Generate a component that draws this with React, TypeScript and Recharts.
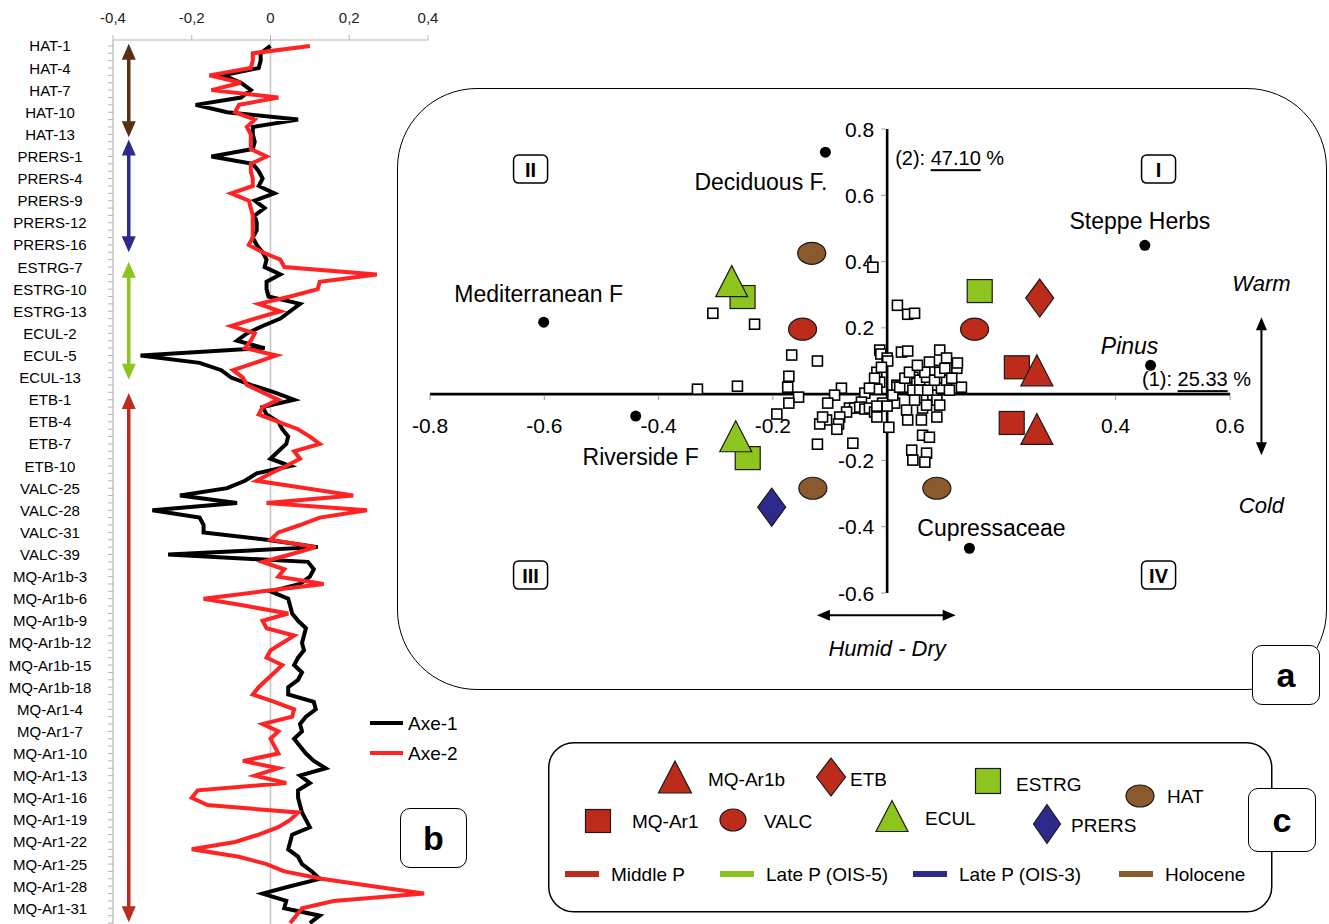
import React from 'react';
import {
  LineChart, Line, XAxis, YAxis, ReferenceLine, ReferenceDot, ScatterChart, Scatter,
} from 'recharts';

const FONT = '"Liberation Sans", Arial, Helvetica, sans-serif';
const RED = '#bd2b1b';
const GREEN = '#8dc41e';
const NAVY = '#2c2a8d';
const BROWN = '#8a5a2c';
const DARKBROWN = '#5b2f12';

// ---------------- Panel b : sample scores on axes 1 and 2 ----------------
const sampleLabels = [
  'HAT-1', 'HAT-4', 'HAT-7', 'HAT-10', 'HAT-13', 'PRERS-1', 'PRERS-4', 'PRERS-9', 'PRERS-12', 'PRERS-16',
  'ESTRG-7', 'ESTRG-10', 'ESTRG-13', 'ECUL-2', 'ECUL-5', 'ECUL-13', 'ETB-1', 'ETB-4', 'ETB-7', 'ETB-10',
  'VALC-25', 'VALC-28', 'VALC-31', 'VALC-39', 'MQ-Ar1b-3', 'MQ-Ar1b-6', 'MQ-Ar1b-9', 'MQ-Ar1b-12', 'MQ-Ar1b-15', 'MQ-Ar1b-18',
  'MQ-Ar1-4', 'MQ-Ar1-7', 'MQ-Ar1-10', 'MQ-Ar1-13', 'MQ-Ar1-16', 'MQ-Ar1-19', 'MQ-Ar1-22', 'MQ-Ar1-25', 'MQ-Ar1-28', 'MQ-Ar1-31',
];
const profileTicks = [-0.4, -0.2, 0, 0.2, 0.4];
const seriesNames = ['Axe-1', 'Axe-2'];

const axe1 = [
  0.0, -0.025, -0.025, -0.03, -0.12, -0.075, -0.05, -0.075, -0.19, -0.11,
  0.07, -0.045, -0.045, -0.04, -0.045, -0.15, -0.045, -0.03, -0.02, -0.03,
  0.01, -0.04, -0.015, -0.04, -0.035, -0.035, -0.045, -0.035, -0.02, -0.01,
  -0.015, 0.025, -0.01, -0.01, -0.005, 0.075, 0.05, 0.025, -0.02, -0.06,
  -0.085, -0.015, -0.33, -0.18, -0.125, -0.1, -0.05, 0.01, 0.06, -0.02,
  -0.01, 0.02, 0.03, 0.045, 0.04, 0.02, 0.0, 0.05, -0.035, -0.065,
  -0.11, -0.23, -0.085, -0.3, -0.18, -0.17, -0.17, -0.01, 0.12, -0.26,
  0.095, 0.11, 0.1, 0.075, 0.0, 0.045, 0.05, 0.055, 0.07, 0.09,
  0.085, 0.08, 0.085, 0.07, 0.06, 0.08, 0.07, 0.045, 0.045, 0.11,
  0.115, 0.09, 0.075, 0.08, 0.06, 0.075, 0.09, 0.11, 0.14, 0.075,
  0.1, 0.07, 0.07, 0.075, 0.08, 0.09, 0.1, 0.055, 0.05, 0.045,
  0.07, 0.08, 0.105, 0.125, 0.05, -0.02, 0.04, 0.035, 0.125, 0.1,
];
const axe2 = [
  0.1, -0.045, -0.045, -0.05, -0.155, -0.075, -0.15, 0.02, -0.08, -0.09,
  -0.04, -0.06, -0.05, -0.05, -0.05, -0.01, -0.05, -0.05, -0.045, -0.045,
  -0.1, -0.055, -0.05, -0.045, -0.045, -0.045, -0.045, -0.055, -0.02, 0.025,
  0.035, 0.27, 0.125, 0.12, 0.05, -0.03, 0.025, -0.04, -0.1, -0.04,
  -0.05, -0.065, 0.015, -0.04, -0.095, -0.07, -0.06, -0.02, 0.02, -0.02,
  -0.03, 0.02, 0.07, 0.1, 0.125, 0.06, 0.075, 0.04, 0.0, -0.035,
  0.09, 0.21, -0.01, 0.245, 0.125, 0.075, 0.02, 0.0, 0.115, 0.05,
  -0.02, 0.035, 0.02, 0.135, -0.02, -0.17, -0.06, 0.045, -0.02, -0.01,
  0.06, 0.03, 0.0, -0.01, 0.03, 0.01, -0.01, -0.03, -0.045, 0.01,
  0.06, 0.055, -0.02, 0.02, 0.0, 0.01, 0.02, -0.07, 0.02, -0.04,
  0.04, -0.185, -0.2, -0.16, 0.07, 0.05, 0.02, -0.03, -0.09, -0.2,
  -0.08, -0.01, 0.035, 0.13, 0.26, 0.39, 0.16, 0.08, 0.065, 0.05,
];
const profileData = axe1.map((v, i) => ({ idx: i, axe1: v, axe2: axe2[i] }));
const idxTicks = Array.from({ length: 122 }, (_, i) => i);

// period arrows along the sample axis (sample index range)
const periodArrows = [
  { from: -0.3, to: 12.4, color: DARKBROWN },
  { from: 12.7, to: 28.0, color: NAVY },
  { from: 29.3, to: 45.3, color: GREEN },
  { from: 47.1, to: 118.9, color: RED },
];
const periodArrowX = -0.36;

// ---------------- Panel a : correspondence analysis plane ----------------
const sampleScores = [
  { x: -0.025, y: 0.383 }, { x: 0.018, y: 0.268 }, { x: 0.036, y: 0.241 }, { x: 0.048, y: 0.244 },
  { x: -0.305, y: 0.244 }, { x: -0.232, y: 0.211 }, { x: -0.167, y: 0.118 }, { x: -0.122, y: 0.1 },
  { x: -0.013, y: 0.133 }, { x: -0.011, y: 0.121 }, { x: 0.0, y: 0.109 }, { x: -0.172, y: 0.054 },
  { x: -0.174, y: 0.021 }, { x: -0.155, y: -0.009 }, { x: -0.172, y: -0.027 }, { x: -0.332, y: 0.015 },
  { x: -0.262, y: 0.024 }, { x: -0.08, y: 0.018 }, { x: -0.092, y: -0.003 }, { x: -0.104, y: -0.027 },
  { x: -0.193, y: -0.06 }, { x: 0.025, y: 0.127 }, { x: 0.036, y: 0.13 }, { x: -0.018, y: 0.066 },
  { x: -0.013, y: 0.036 }, { x: -0.039, y: 0.003 }, { x: -0.018, y: 0.015 }, { x: 0.017, y: 0.027 },
  { x: 0.001, y: 0.1 }, { x: -0.01, y: 0.081 }, { x: -0.022, y: 0.048 }, { x: -0.031, y: 0.018 },
  { x: -0.045, y: -0.024 }, { x: -0.066, y: -0.042 }, { x: -0.057, y: -0.042 }, { x: -0.048, y: -0.039 },
  { x: -0.039, y: -0.045 }, { x: -0.031, y: -0.042 }, { x: -0.071, y: -0.054 }, { x: -0.083, y: -0.069 },
  { x: -0.106, y: -0.078 }, { x: -0.118, y: -0.09 }, { x: -0.085, y: -0.09 }, { x: -0.088, y: -0.106 },
  { x: -0.122, y: -0.151 }, { x: -0.06, y: -0.148 }, { x: -0.022, y: -0.054 }, { x: -0.008, y: -0.027 },
  { x: 0.003, y: -0.1 }, { x: 0.013, y: -0.027 }, { x: 0.017, y: 0.021 }, { x: 0.034, y: 0.021 },
  { x: 0.045, y: 0.051 }, { x: 0.052, y: 0.033 }, { x: 0.057, y: 0.042 }, { x: 0.069, y: 0.051 },
  { x: 0.08, y: 0.072 }, { x: 0.092, y: 0.133 }, { x: 0.104, y: 0.109 }, { x: 0.122, y: 0.078 },
  { x: 0.123, y: 0.094 }, { x: 0.13, y: 0.021 }, { x: 0.034, y: -0.048 }, { x: 0.036, y: -0.078 },
  { x: 0.06, y: -0.078 }, { x: 0.087, y: -0.069 }, { x: 0.069, y: -0.012 }, { x: 0.08, y: -0.003 },
  { x: 0.062, y: -0.042 }, { x: 0.095, y: 0.018 }, { x: 0.104, y: 0.042 }, { x: 0.062, y: -0.124 },
  { x: 0.074, y: -0.13 }, { x: 0.043, y: -0.169 }, { x: 0.045, y: -0.199 }, { x: 0.069, y: -0.178 },
  { x: 0.066, y: -0.205 }, { x: 0.109, y: 0.012 }, { x: 0.01, y: -0.003 }, { x: 0.022, y: 0.021 },
  { x: 0.045, y: 0.012 }, { x: 0.057, y: 0.012 }, { x: 0.071, y: 0.012 }, { x: 0.031, y: 0.048 },
  { x: 0.039, y: 0.066 }, { x: 0.066, y: 0.066 }, { x: 0.083, y: 0.042 }, { x: 0.053, y: 0.087 },
  { x: 0.074, y: 0.097 }, { x: 0.092, y: 0.066 }, { x: 0.101, y: 0.078 }, { x: 0.113, y: 0.048 },
  { x: 0.087, y: -0.018 }, { x: 0.048, y: -0.018 }, { x: 0.069, y: -0.033 }, { x: 0.092, y: -0.033 },
  { x: -0.018, y: -0.036 }, { x: 0.0, y: -0.036 }, { x: -0.018, y: -0.069 }, { x: -0.113, y: -0.069 },
];

const taxa = [
  { name: 'Deciduous F.', x: -0.108, y: 0.73 },
  { name: 'Steppe Herbs', x: 0.451, y: 0.449 },
  { name: 'Mediterranean F', x: -0.601, y: 0.217 },
  { name: 'Pinus', x: 0.461, y: 0.087 },
  { name: 'Riverside F', x: -0.44, y: -0.066 },
  { name: 'Cupressaceae', x: 0.144, y: -0.465 },
];

const mqAr1Pts = [{ x: 0.227, y: 0.081 }, { x: 0.218, y: -0.087 }];
const estrgPts = [{ x: -0.253, y: 0.293 }, { x: -0.244, y: -0.193 }, { x: 0.162, y: 0.311 }];
const valcPts = [{ x: -0.148, y: 0.196 }, { x: 0.153, y: 0.196 }];
const hatPts = [{ x: -0.132, y: 0.425 }, { x: -0.13, y: -0.284 }, { x: 0.087, y: -0.284 }];
const etbPts = [{ x: 0.267, y: 0.29 }];
const prersPts = [{ x: -0.202, y: -0.341 }];
const eculPts = [{ x: -0.272, y: 0.341 }, { x: -0.265, y: -0.127 }];
const mqAr1bPts = [{ x: 0.262, y: 0.072 }, { x: 0.262, y: -0.105 }];

const caXTicks = [-0.8, -0.6, -0.4, -0.2, 0.4, 0.6];
const caYTicks = [0.8, 0.6, 0.4, 0.2, -0.2, -0.4, -0.6];
const quadrants = [
  { label: 'I', x: 0.475, y: 0.679 },
  { label: 'II', x: -0.624, y: 0.679 },
  { label: 'III', x: -0.624, y: -0.546 },
  { label: 'IV', x: 0.475, y: -0.546 },
];
const axisInertia = { axis1: '25.33', axis2: '47.10' };

// ---------------- Panel c legend ----------------
const legendSites = ['MQ-Ar1b', 'ETB', 'ESTRG', 'HAT', 'MQ-Ar1', 'VALC', 'ECUL', 'PRERS'];
const legendPeriods = ['Middle P', 'Late P (OIS-5)', 'Late P (OIS-3)', 'Holocene'];

// ---------------- styles ----------------
type Kind = 'triangle' | 'square' | 'ellipse' | 'diamond';
const siteStyle: Record<string, { kind: Kind; fill: string }> = {
  'MQ-Ar1b': { kind: 'triangle', fill: RED },
  'MQ-Ar1': { kind: 'square', fill: RED },
  ETB: { kind: 'diamond', fill: RED },
  VALC: { kind: 'ellipse', fill: RED },
  ESTRG: { kind: 'square', fill: GREEN },
  ECUL: { kind: 'triangle', fill: GREEN },
  PRERS: { kind: 'diamond', fill: NAVY },
  HAT: { kind: 'ellipse', fill: BROWN },
};
const kindSize: Record<Kind, [number, number]> = {
  triangle: [32, 31], square: [25, 23], ellipse: [28, 22], diamond: [28, 38],
};
const periodColors = [RED, GREEN, NAVY, BROWN];

const taxonLabel: Record<string, { dx: number; dy: number; anchor: 'start' | 'middle' | 'end'; italic?: boolean }> = {
  'Deciduous F.': { dx: 2, dy: 30, anchor: 'end' },
  'Steppe Herbs': { dx: -5, dy: -24, anchor: 'middle' },
  'Mediterranean F': { dx: -5, dy: -28, anchor: 'middle' },
  Pinus: { dx: -21, dy: -19, anchor: 'middle', italic: true },
  'Riverside F': { dx: 5, dy: 41, anchor: 'middle' },
  Cupressaceae: { dx: 22, dy: -20, anchor: 'middle' },
};

const legendPos: Record<string, { cx: number; cy: number; tx: number; ty: number }> = {
  'MQ-Ar1b': { cx: 127, cy: 35, tx: 160, ty: 37 },
  ETB: { cx: 283, cy: 35, tx: 302, ty: 37 },
  ESTRG: { cx: 440, cy: 39, tx: 468, ty: 42 },
  HAT: { cx: 592, cy: 54, tx: 619, ty: 54 },
  'MQ-Ar1': { cx: 50, cy: 79, tx: 84, ty: 79 },
  VALC: { cx: 185, cy: 78, tx: 216, ty: 79 },
  ECUL: { cx: 344, cy: 74, tx: 377, ty: 76 },
  PRERS: { cx: 499, cy: 82, tx: 523, ty: 83 },
};
const periodPos = [17, 172, 365, 571];
const legendSymbolSize: Record<string, [number, number]> = {
  'MQ-Ar1b': [33, 32], ETB: [29, 38], ESTRG: [25, 25], HAT: [28, 22],
  'MQ-Ar1': [25, 23], VALC: [26, 22], ECUL: [32, 31], PRERS: [27, 39],
};

// ---------------- drawing helpers ----------------
function symbol(kind: Kind, cx: number, cy: number, w: number, h: number, fill: string) {
  const stroke = '#1a1a1a';
  const sw = 1.2;
  if (kind === 'triangle') {
    return <path d={`M${cx},${cy - h / 2} L${cx + w / 2},${cy + h / 2} L${cx - w / 2},${cy + h / 2} Z`} fill={fill} stroke={stroke} strokeWidth={sw} strokeLinejoin="miter" />;
  }
  if (kind === 'diamond') {
    return <path d={`M${cx},${cy - h / 2} L${cx + w / 2},${cy} L${cx},${cy + h / 2} L${cx - w / 2},${cy} Z`} fill={fill} stroke={stroke} strokeWidth={sw} />;
  }
  if (kind === 'ellipse') {
    return <ellipse cx={cx} cy={cy} rx={w / 2} ry={h / 2} fill={fill} stroke={stroke} strokeWidth={sw} />;
  }
  return <rect x={cx - w / 2} y={cy - h / 2} width={w} height={h} fill={fill} stroke={stroke} strokeWidth={sw} />;
}

const siteShape = (site: string) => (p: any) => {
  const st = siteStyle[site];
  const [w, h] = kindSize[st.kind];
  return symbol(st.kind, p.cx, p.cy, w, h, st.fill);
};

const SmallSquare = (p: any) => (
  <rect x={p.cx - 5} y={p.cy - 5} width={10} height={10} fill="#fff" stroke="#000" strokeWidth={1.6} />
);

const TaxonShape = (p: any) => {
  const name = p.payload.name;
  const st = taxonLabel[name];
  return (
    <g>
      <circle cx={p.cx} cy={p.cy} r={5.5} fill="#000" />
      <text x={p.cx + st.dx} y={p.cy + st.dy} textAnchor={st.anchor} dominantBaseline="central"
        fontSize={23} fontStyle={st.italic ? 'italic' : 'normal'} fill="#000" fontFamily={FONT}>{name}</text>
    </g>
  );
};

const doubleArrow = (color: string, width: number, headLen: number, headHalf: number) => (p: any) => {
  const { x1, y1, x2, y2 } = p;
  const dx = x2 - x1;
  const dy = y2 - y1;
  const L = Math.hypot(dx, dy) || 1;
  const ux = dx / L;
  const uy = dy / L;
  const nx = -uy;
  const ny = ux;
  const a1x = x1 + ux * headLen;
  const a1y = y1 + uy * headLen;
  const a2x = x2 - ux * headLen;
  const a2y = y2 - uy * headLen;
  return (
    <g>
      <line x1={a1x - ux * 2} y1={a1y - uy * 2} x2={a2x + ux * 2} y2={a2y + uy * 2} stroke={color} strokeWidth={width} />
      <polygon points={`${x1},${y1} ${a1x + nx * headHalf},${a1y + ny * headHalf} ${a1x - nx * headHalf},${a1y - ny * headHalf}`} fill={color} />
      <polygon points={`${x2},${y2} ${a2x + nx * headHalf},${a2y + ny * headHalf} ${a2x - nx * headHalf},${a2y - ny * headHalf}`} fill={color} />
    </g>
  );
};

const ProfileXTick = (p: any) => (
  <text x={p.x} y={p.y - 16} textAnchor="middle" dominantBaseline="central" fontSize={15} fill="#222" fontFamily={FONT}>
    {String(p.payload.value).replace('.', ',')}
  </text>
);

const ProfileYTick = (p: any) => {
  const i = p.payload.value;
  if (i % 3 !== 0 || !sampleLabels[i / 3]) return <g />;
  return (
    <text x={p.x - 56} y={p.y} textAnchor="middle" dominantBaseline="central" fontSize={15} fill="#000" fontFamily={FONT}>
      {sampleLabels[i / 3]}
    </text>
  );
};

const labelBox = (letter: string, left: number, top: number, w: number, h: number) => (
  <div style={{
    position: 'absolute', left, top, width: w, height: h, boxSizing: 'border-box', border: '1.5px solid #000',
    borderRadius: 10, background: '#fff', display: 'flex', alignItems: 'center', justifyContent: 'center',
    fontWeight: 'bold', fontSize: 34, fontFamily: FONT,
  }}>{letter}</div>
);

export default function App() {
  return (
    <div style={{ position: 'absolute', left: 0, top: 0, width: 1329, height: 924, overflow: 'hidden', background: '#fff', fontFamily: FONT }}>
      {/* ---------- panel b ---------- */}
      <div style={{ position: 'absolute', left: 0, top: 0 }}>
        <LineChart width={440} height={940} layout="vertical" data={profileData}
          margin={{ top: 10, right: 12, bottom: 0, left: 8 }}>
          <XAxis type="number" orientation="top" domain={[-0.4, 0.4]} ticks={profileTicks} height={30}
            tickSize={5} axisLine={{ stroke: '#b5b5b5', strokeWidth: 1.2 }} tickLine={{ stroke: '#b5b5b5' }}
            tick={<ProfileXTick />} interval={0} />
          <YAxis type="number" dataKey="idx" domain={[-0.8, 121.3]} ticks={idxTicks} interval={0}
            width={105} tickSize={5} axisLine={{ stroke: '#b5b5b5', strokeWidth: 1.2 }} tickLine={{ stroke: '#b5b5b5' }}
            tick={<ProfileYTick />} />
          <ReferenceLine x={0} stroke="#c4c4c4" strokeWidth={1.5} />
          {periodArrows.map((a, k) => (
            <ReferenceLine key={'pa' + k} segment={[{ x: periodArrowX, y: a.from }, { x: periodArrowX, y: a.to }]}
              ifOverflow="visible" shape={doubleArrow(a.color, 3.5, 16, 7)} />
          ))}
          <Line type="linear" dataKey="axe1" name={seriesNames[0]} stroke="#000" strokeWidth={4} dot={false} isAnimationActive={false} />
          <Line type="linear" dataKey="axe2" name={seriesNames[1]} stroke="#ff2323" strokeWidth={4} dot={false} isAnimationActive={false} />
        </LineChart>
      </div>
      <svg style={{ position: 'absolute', left: 360, top: 705 }} width={110} height={65}>
        <line x1={10} y1={18} x2={43} y2={18} stroke="#000" strokeWidth={4} />
        <text x={48} y={18} dominantBaseline="central" fontSize={19} fontFamily={FONT}>{seriesNames[0]}</text>
        <line x1={10} y1={48} x2={43} y2={48} stroke="#ff2323" strokeWidth={4} />
        <text x={48} y={48} dominantBaseline="central" fontSize={19} fontFamily={FONT}>{seriesNames[1]}</text>
      </svg>
      {labelBox('b', 400, 808, 67, 60)}

      {/* ---------- panel a ---------- */}
      <div style={{ position: 'absolute', left: 397, top: 88, width: 930, height: 602, boxSizing: 'border-box', border: '1.5px solid #000', borderRadius: 80 }} />
      <div style={{ position: 'absolute', left: 397, top: 88 }}>
        <ScatterChart width={932} height={604} margin={{ top: 41, right: 99, bottom: 99, left: 33 }}>
          <XAxis type="number" dataKey="x" domain={[-0.8, 0.6]} hide />
          <YAxis type="number" dataKey="y" domain={[-0.6, 0.8]} hide />
          <ReferenceLine segment={[{ x: -0.8, y: 0 }, { x: 0.6, y: 0 }]} stroke="#000" strokeWidth={2.6} ifOverflow="visible" />
          <ReferenceLine segment={[{ x: 0, y: -0.6 }, { x: 0, y: 0.8 }]} stroke="#000" strokeWidth={2.6} ifOverflow="visible" />
          {caXTicks.map((v) => (
            <ReferenceDot key={'xt' + v} x={v} y={0} ifOverflow="visible" shape={(p: any) => (
              <g>
                <line x1={p.cx} y1={p.cy + 1} x2={p.cx} y2={p.cy + 6} stroke="#999" strokeWidth={1} />
                <text x={p.cx} y={p.cy + 31} textAnchor="middle" dominantBaseline="central" fontSize={21} fontFamily={FONT}>{v.toFixed(1)}</text>
              </g>
            )} />
          ))}
          {caYTicks.map((v) => (
            <ReferenceDot key={'yt' + v} x={0} y={v} ifOverflow="visible" shape={(p: any) => (
              <g>
                <line x1={p.cx - 6} y1={p.cy} x2={p.cx - 1} y2={p.cy} stroke="#999" strokeWidth={1} />
                <text x={p.cx - 13} y={p.cy} textAnchor="end" dominantBaseline="central" fontSize={21} fontFamily={FONT}>{v.toFixed(1)}</text>
              </g>
            )} />
          ))}
          {quadrants.map((q) => (
            <ReferenceDot key={'q' + q.label} x={q.x} y={q.y} ifOverflow="visible" shape={(p: any) => (
              <g>
                <rect x={p.cx - 17} y={p.cy - 14} width={34} height={28} rx={5} fill="#fff" stroke="#000" strokeWidth={1.5} />
                <text x={p.cx} y={p.cy + 1} textAnchor="middle" dominantBaseline="central" fontSize={20} fontWeight="bold" fontFamily={FONT}>{q.label}</text>
              </g>
            )} />
          ))}
          <ReferenceDot x={0} y={0.712} ifOverflow="visible" shape={(p: any) => (
            <text x={p.cx + 8} y={p.cy} dominantBaseline="central" fontSize={20} fontFamily={FONT}>
              (2): <tspan style={{ textDecoration: 'underline' }}>{axisInertia.axis2}</tspan> %
            </text>
          )} />
          <ReferenceDot x={0.6} y={0} ifOverflow="visible" shape={(p: any) => (
            <text x={p.cx + 21} y={p.cy - 15} textAnchor="end" dominantBaseline="central" fontSize={20} fontFamily={FONT}>
              (1): <tspan style={{ textDecoration: 'underline' }}>{axisInertia.axis1}</tspan> %
            </text>
          )} />
          <ReferenceLine segment={[{ x: 0.655, y: 0.232 }, { x: 0.655, y: -0.184 }]} ifOverflow="visible" shape={doubleArrow('#000', 2, 13, 5.5)} />
          <ReferenceLine segment={[{ x: -0.123, y: -0.667 }, { x: 0.12, y: -0.667 }]} ifOverflow="visible" shape={doubleArrow('#000', 2, 13, 5.5)} />
          <ReferenceDot x={0.655} y={0.335} ifOverflow="visible" shape={(p: any) => (
            <text x={p.cx} y={p.cy} textAnchor="middle" dominantBaseline="central" fontSize={22} fontStyle="italic" fontFamily={FONT}>Warm</text>
          )} />
          <ReferenceDot x={0.655} y={-0.335} ifOverflow="visible" shape={(p: any) => (
            <text x={p.cx} y={p.cy} textAnchor="middle" dominantBaseline="central" fontSize={22} fontStyle="italic" fontFamily={FONT}>Cold</text>
          )} />
          <ReferenceDot x={0} y={-0.766} ifOverflow="visible" shape={(p: any) => (
            <text x={p.cx} y={p.cy} textAnchor="middle" dominantBaseline="central" fontSize={22} fontStyle="italic" fontFamily={FONT}>Humid - Dry</text>
          )} />
          <Scatter data={sampleScores} shape={SmallSquare} isAnimationActive={false} />
          <Scatter data={taxa} shape={TaxonShape} isAnimationActive={false} />
          <Scatter data={mqAr1Pts} shape={siteShape('MQ-Ar1')} isAnimationActive={false} />
          <Scatter data={estrgPts} shape={siteShape('ESTRG')} isAnimationActive={false} />
          <Scatter data={valcPts} shape={siteShape('VALC')} isAnimationActive={false} />
          <Scatter data={hatPts} shape={siteShape('HAT')} isAnimationActive={false} />
          <Scatter data={etbPts} shape={siteShape('ETB')} isAnimationActive={false} />
          <Scatter data={prersPts} shape={siteShape('PRERS')} isAnimationActive={false} />
          <Scatter data={eculPts} shape={siteShape('ECUL')} isAnimationActive={false} />
          <Scatter data={mqAr1bPts} shape={siteShape('MQ-Ar1b')} isAnimationActive={false} />
        </ScatterChart>
      </div>
      {labelBox('a', 1252, 645, 68, 60)}

      {/* ---------- panel c ---------- */}
      <svg style={{ position: 'absolute', left: 548, top: 742 }} width={726} height={172}>
        <rect x={0.75} y={0.75} width={723} height={169} rx={25} fill="none" stroke="#000" strokeWidth={1.5} />
        {legendSites.map((s) => {
          const pos = legendPos[s];
          const st = siteStyle[s];
          const [w, h] = legendSymbolSize[s];
          return (
            <g key={s}>
              {symbol(st.kind, pos.cx, pos.cy, w, h, st.fill)}
              <text x={pos.tx} y={pos.ty} dominantBaseline="central" fontSize={19} fontFamily={FONT}>{s}</text>
            </g>
          );
        })}
        {legendPeriods.map((p, k) => (
          <g key={p}>
            <rect x={periodPos[k]} y={129} width={34} height={6} fill={periodColors[k]} />
            <text x={periodPos[k] + 46} y={132} dominantBaseline="central" fontSize={19} fontFamily={FONT}>{p}</text>
          </g>
        ))}
      </svg>
      {labelBox('c', 1248, 788, 68, 64)}
    </div>
  );
}
